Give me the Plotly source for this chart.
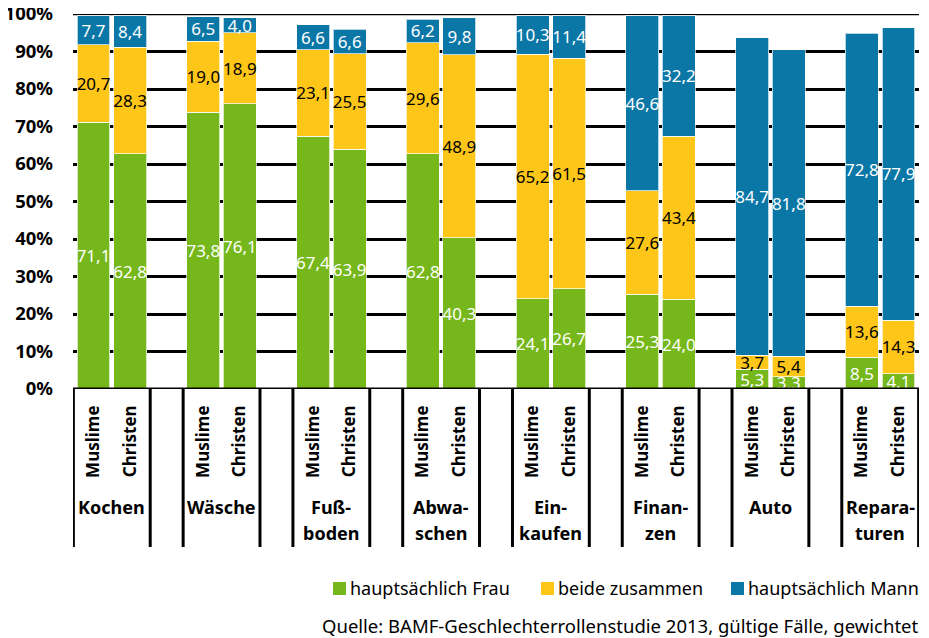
import plotly.graph_objects as go

# ---- data ----
groups = ["Kochen", "Wäsche", "Fuß-<br>boden", "Abwa-<br>schen", "Ein-<br>kaufen",
          "Finan-<br>zen", "Auto", "Repara-<br>turen"]
subgroups = ["Muslime", "Christen"]
series_names = ["hauptsächlich Frau", "beide zusammen", "hauptsächlich Mann"]

frau_muslime = [71.1, 73.8, 67.4, 62.8, 24.1, 25.3, 5.3, 8.5]
frau_christen = [62.8, 76.1, 63.9, 40.3, 26.7, 24.0, 3.3, 4.1]
beide_muslime = [20.7, 19.0, 23.1, 29.6, 65.2, 27.6, 3.7, 13.6]
beide_christen = [28.3, 18.9, 25.5, 48.9, 61.5, 43.4, 5.4, 14.3]
mann_muslime = [7.7, 6.5, 6.6, 6.2, 10.3, 46.6, 84.7, 72.8]
mann_christen = [8.4, 4.0, 6.6, 9.8, 11.4, 32.2, 81.8, 77.9]

y_ticks = list(range(0, 101, 10))
y_ticktext = [f"{v}%" for v in y_ticks]

source_text = "Quelle: BAMF-Geschlechterrollenstudie 2013, gültige Fälle, gewichtet"

# ---- styling ----
FONT = "Noto Sans"
colors = ["rgb(118,184,28)", "rgb(254,198,25)", "rgb(11,119,167)"]
text_colors = ["white", "black", "white"]

# the page body adds an 8px offset, so the figure is 8px smaller than the window
OFF = 8
W, H = 929 - OFF, 638 - OFF
ML, MR, MT, MB = 73 - OFF, 10, 14 - OFF, 249
PW, PH = W - ML - MR, H - MT - MB


def px_x(px):
    return (px - OFF - ML) / PW


def px_y(py):
    return (H - MB - (py - OFF)) / PH


# x positions: Muslime at 3i, Christen at 3i+1
xpos = []
for i in range(len(groups)):
    xpos += [3 * i, 3 * i + 1]


def interleave(a, b):
    out = []
    for p, q in zip(a, b):
        out += [p, q]
    return out


series = [interleave(frau_muslime, frau_christen),
          interleave(beide_muslime, beide_christen),
          interleave(mann_muslime, mann_christen)]

fig = go.Figure()
for name, vals, col, tcol in zip(series_names, series, colors, text_colors):
    fig.add_trace(go.Bar(
        x=xpos, y=vals, name=name, width=0.9,
        marker=dict(color=col, line=dict(color="rgba(255,255,255,0.7)", width=1)),
        text=[f"{v:.1f}".replace(".", ",") for v in vals],
        textposition="inside", insidetextanchor="middle", textangle=0,
        constraintext="none",
        textfont=dict(family=FONT, size=17, color=tcol),
        hoverinfo="skip", showlegend=False,
    ))

shapes = []
# baseline at 0% and top line at 100%
for yv in (0, 100):
    shapes.append(dict(type="line", xref="paper", yref="y", x0=0, x1=1, y0=yv, y1=yv,
                       line=dict(color="black", width=3 if yv == 0 else 2.5),
                       layer="above" if yv == 0 else "below"))
# group boxes below axis
for i in range(len(groups)):
    for xv in (3 * i - 0.55, 3 * i + 1.55):
        shapes.append(dict(type="line", xref="x", yref="paper", x0=xv, x1=xv,
                           y0=0, y1=px_y(547), line=dict(color="black", width=3),
                           layer="above"))

annotations = []
line_gap = 26 / PH
for i, g in enumerate(groups):
    for k, part in enumerate(g.split("<br>")):
        annotations.append(dict(x=3 * i + 0.5, y=px_y(507) - k * line_gap,
                                xref="x", yref="paper",
                                text=f"<b>{part}</b>", showarrow=False,
                                yanchor="middle", xanchor="center",
                                font=dict(family=FONT, size=18, color="black")))

# legend (drawn manually to keep the tight symbol/text spacing of the original)
legend_sq_px = [333, 541, 731]
for name, col, sx in zip(series_names, colors, legend_sq_px):
    shapes.append(dict(type="rect", xref="paper", yref="paper",
                       x0=px_x(sx), x1=px_x(sx + 13), y0=px_y(595), y1=px_y(582),
                       fillcolor=col, line=dict(width=0)))
    annotations.append(dict(x=px_x(sx + 15), y=px_y(588), xref="paper", yref="paper",
                            text=name, showarrow=False, xanchor="left", yanchor="middle",
                            font=dict(family=FONT, size=18, color="black")))

annotations.append(dict(x=px_x(921), y=px_y(625), xref="paper", yref="paper",
                        text=source_text,
                        showarrow=False, xanchor="right", yanchor="middle",
                        font=dict(family=FONT, size=18.5, color="black")))

fig.update_layout(
    width=W, height=H,
    margin=dict(l=ML, r=MR, t=MT, b=MB, autoexpand=False),
    barmode="stack",
    plot_bgcolor="white", paper_bgcolor="white",
    font=dict(family=FONT, color="black"),
    showlegend=False,
    shapes=shapes,
    annotations=annotations,
    xaxis=dict(range=[-0.56, 22.56], tickvals=xpos,
               ticktext=[f"<b>{s}</b>" for s in subgroups] * len(groups),
               tickangle=-90, showgrid=False, zeroline=False, showline=False,
               ticks="", tickfont=dict(family=FONT, size=17, color="black"),
               ticklabelstandoff=12, fixedrange=True, automargin=False),
    yaxis=dict(range=[0, 100], tickvals=y_ticks, ticktext=[f"<b>{t}</b>" for t in y_ticktext],
               showgrid=True, gridcolor="black", gridwidth=2.5, zeroline=False,
               showline=False, ticks="", ticklabelstandoff=19,
               ticklabeloverflow="allow",
               tickfont=dict(family=FONT, size=18.5, color="black"), fixedrange=True,
               automargin=False),
)

fig.write_html("out.html")
